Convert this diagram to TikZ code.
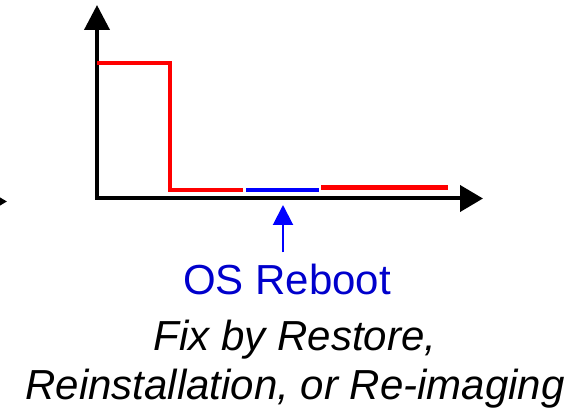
\documentclass[tikz,border=0pt]{standalone}
\usepackage{fontspec}
\setmainfont{Liberation Sans}
\usepackage{xcolor}
\definecolor{plotred}{RGB}{255,0,0}
\definecolor{plotblue}{RGB}{0,0,255}
\definecolor{labelblue}{RGB}{0,0,204}
\usetikzlibrary{arrows.meta,positioning}

\begin{document}
\begin{tikzpicture}[x=1pt,y=1pt,
    axisline/.style={line width=4pt,black},
    stateline/.style={line width=4.5pt},
    bigtext/.style={inner sep=0pt,anchor=base,font=\fontsize{42}{49}\selectfont},
    fixtext/.style={bigtext,font=\fontsize{42}{49}\selectfont\itshape}]
  \useasboundingbox (0,0) rectangle (587,410);
  \clip (0,0) rectangle (587,410);
  %% Arrow coming in from the previous panel
  \coordinate (prevtail) at (-60,208.5);
  \coordinate (prevtip) at (7,208.5);
  \draw[axisline,-{Triangle[length=23pt,width=26pt]}] (prevtail) -- (prevtip);
  %% Axes
  \coordinate (origin) at (97,211.5);
  \coordinate (ytip) at (97,405);
  \coordinate (xtip) at (483,211.5);
  \draw[axisline,{Triangle[length=25pt,width=25pt]}-{Triangle[length=23pt,width=26pt]}]
        (ytip) -- (origin) -- (xtip);
  %% State curve
  \draw[stateline,plotred] (97,347) -- (170,347) -- (170,220) -- (243,220);
  \draw[stateline,plotblue] (246,220) -- (319,220);
  \draw[stateline,plotred] (321,222.5) -- (448,222.5);
  %% Reboot label
  \coordinate (rebootmark) at (283,205);
  \node[bigtext,text=labelblue] (reboot) at (287,115) {OS Reboot};
  \draw[plotblue,line width=2pt,-{Triangle[length=20pt,width=20pt]},shorten <=12pt]
        (rebootmark |- reboot.north) -- (rebootmark);
  %% Fix text
  \node[fixtext] (fixline1) at (295,59) {Fix by Restore,};
  \node[fixtext] (fixline2) at (295,10) {Reinstallation, or Re-imaging};
\end{tikzpicture}
\end{document}
